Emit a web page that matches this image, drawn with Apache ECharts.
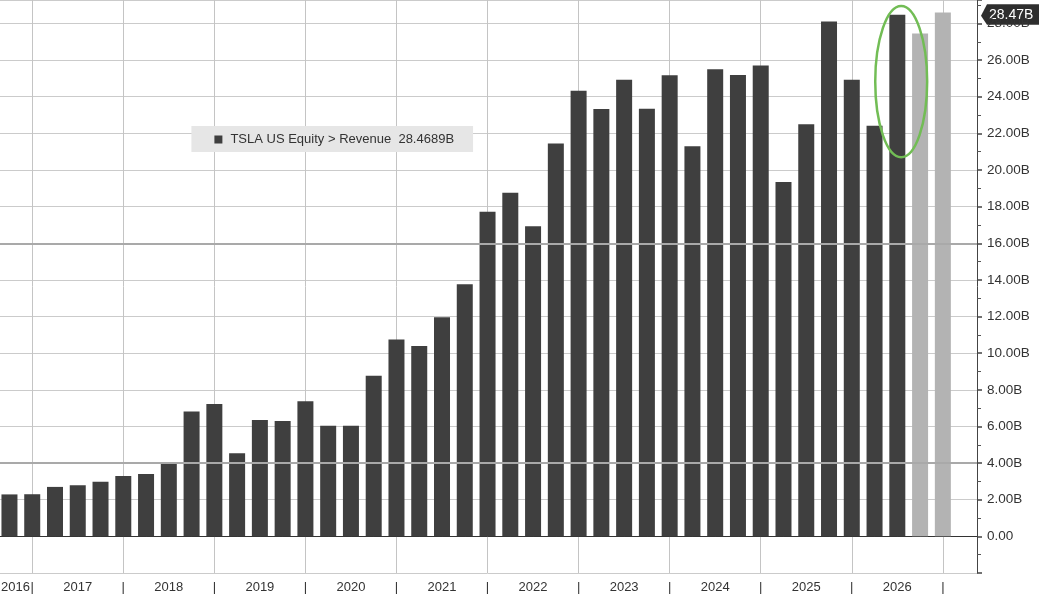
<!DOCTYPE html>
<html><head><meta charset="utf-8">
<script src="https://cdn.jsdelivr.net/npm/echarts@6/dist/echarts.min.js"></script>
<style>html,body{margin:0;padding:0;background:#fff;overflow:hidden}#c{position:absolute;left:-2.4px;top:0;width:1041.4px;height:594px}</style>
</head><body><div id="c"></div>
<script>
// Quarter categories (last one is an empty padding slot on the right)
const categories = ['3Q16','4Q16',
  '1Q17','2Q17','3Q17','4Q17','1Q18','2Q18','3Q18','4Q18',
  '1Q19','2Q19','3Q19','4Q19','1Q20','2Q20','3Q20','4Q20',
  '1Q21','2Q21','3Q21','4Q21','1Q22','2Q22','3Q22','4Q22',
  '1Q23','2Q23','3Q23','4Q23','1Q24','2Q24','3Q24','4Q24',
  '1Q25','2Q25','3Q25','4Q25','1Q26','2Q26','3Q26','4Q26',''];
// Reported revenue (B USD)
const actualRevenue = [2.29,2.30,2.70,2.79,2.98,3.29,3.41,4.00,6.82,7.23,
  4.54,6.35,6.30,7.38,6.04,6.04,8.77,10.74,10.39,11.96,
  13.76,17.72,18.76,16.93,21.45,24.32,23.33,24.93,23.35,25.17,
  21.30,25.50,25.18,25.71,19.34,22.50,28.10,24.93,22.42,28.47];
// Estimates (grey bars)
const estimateRevenue = [27.45,28.60];
const lastValue = 28.47;
const legendValue = '28.4689B';
const seriesName = 'TSLA US Equity > Revenue';
const yearTickLabels = ['2016','2017','2018','2019','2020','2021','2022','2023','2024','2025','2026'];
const highlightLevels = [4, 16];
const circled = {index: 39, low: 20.7, high: 28.95};

const nActual = actualRevenue.length;
const actualData = categories.map((c,i)=> i < nActual ? actualRevenue[i] : null);
const estData = categories.map((c,i)=> (i>=nActual && i-nActual < estimateRevenue.length) ? estimateRevenue[i-nActual] : null);

const FONT = 'Liberation Sans, Arial, sans-serif';
const chart = echarts.init(document.getElementById('c'), null, {renderer:'canvas'});
const option = {
  animation: false,
  backgroundColor: '#ffffff',
  grid: {left: 0, right: 62, top: 0, bottom: 20.3, containLabel: false},
  legend: {
    show: true, left: 193.4, top: 126, orient: 'horizontal',
    data: [seriesName],
    icon: 'rect', itemWidth: 8, itemHeight: 8,
    backgroundColor: '#e6e6e6', padding: [7, 19, 6, 23],
    textStyle: {fontFamily: FONT, fontSize: 13, color: '#333', padding: [0, 0, 0, 3]},
    formatter: n => n + '  ' + legendValue,
    selectedMode: false
  },
  xAxis: {
    type: 'category', data: categories, boundaryGap: true,
    axisLine: {show: true, lineStyle: {color: '#333', width: 1}},
    axisTick: {show: true, inside: true, length: 4, alignWithLabel: true,
      interval: (i) => i < categories.length - 1, lineStyle: {color: '#444'}},
    splitLine: {show: true, alignWithLabel: true,
      interval: (i, v) => /^4Q/.test(v), lineStyle: {color: '#c4c4c4', width: 1}},
    axisLabel: {
      interval: 0, margin: 8, fontFamily: FONT, fontSize: 13, color: '#333', hideOverlap: false,
      formatter: (v, i) => {
        if (i === 0) return '{s|' + yearTickLabels[0] + '}';
        if (/^2Q/.test(v)) { const y = '20' + v.slice(2); return yearTickLabels.indexOf(y) >= 0 ? y : ''; }
        if (/^4Q/.test(v)) return '|';
        return '';
      },
      rich: {s: {fontFamily: FONT, fontSize: 13, color: '#333', padding: [0,0,0,12]}}
    }
  },
  yAxis: {
    type: 'value', position: 'right', min: -2, max: 29.28, interval: 2,
    axisLine: {show: true, lineStyle: {color: '#444', width: 1}},
    axisTick: {show: true, length: 5, lineStyle: {color: '#444', width: 1.5}},
    minorTick: {show: true, splitNumber: 2, length: 4, lineStyle: {color: '#555'}},
    minorSplitLine: {show: false},
    splitLine: {show: true, lineStyle: {color: '#cbcbcb', width: 1}},
    axisLabel: {
      margin: 10, fontFamily: FONT, fontSize: 13.5, color: '#333',
      formatter: (v) => {
        if (v < 0 || v > 28.01) return '';
        if (Math.abs(v % 2) > 1e-6) return '';
        return v === 0 ? '0.00' : v.toFixed(2) + 'B';
      }
    }
  },
  series: [
    {
      name: 'helper', type: 'line', data: [], z: 1, silent: true,
      markLine: {silent: true, symbol: 'none', animation: false,
        label: {show: false},
        lineStyle: {color: '#a9a9a9', width: 2, type: 'solid'},
        data: highlightLevels.map(v => ({yAxis: v}))}
    },
    {
      name: seriesName, type: 'bar', data: actualData, barWidth: 16, barGap: '-100%', z: 3,
      itemStyle: {color: '#3f3f3f'}
    },
    {
      name: 'estimate', type: 'bar', data: estData, barWidth: 16, barGap: '-100%', z: 3,
      itemStyle: {color: '#b3b3b3'}
    }
  ]
};
chart.setOption(option);

// annotations positioned from data: green ellipse + last-value tag on the axis
function drawAnnotations() {
  const top = chart.convertToPixel({gridIndex: 0}, [circled.index, circled.high]);
  const bot = chart.convertToPixel({gridIndex: 0}, [circled.index, circled.low]);
  const band = chart.convertToPixel({gridIndex: 0}, [circled.index + 1, 0])[0] - top[0];
  const lastIdx = categories.length - 1;
  const axisX = chart.convertToPixel({gridIndex: 0}, [lastIdx, lastValue])[0] + band / 2;
  const tagY = chart.convertToPixel({gridIndex: 0}, [0, lastValue])[1];
  chart.setOption({graphic: [
    {
      type: 'ellipse', z: 100, silent: true,
      shape: {cx: top[0] + band * 0.17, cy: (top[1] + bot[1]) / 2, rx: band * 1.14, ry: (bot[1] - top[1]) / 2},
      style: {fill: 'none', stroke: '#72bd55', lineWidth: 2.5}
    },
    {
      type: 'group', x: axisX + 4, y: tagY, z: 110, silent: true,
      children: [
        {type: 'polygon', shape: {points: [[0, 1], [6, -10.5], [60, -10.5], [60, 10], [6, 10]]},
          style: {fill: '#2e2e2e'}},
        {type: 'text', x: 8, y: 0, style: {text: lastValue.toFixed(2) + 'B', fill: '#ffffff',
          font: '14px ' + FONT, textVerticalAlign: 'middle', textAlign: 'left'}}
      ]
    }
  ]});
}
drawAnnotations();
</script>
</body></html>
